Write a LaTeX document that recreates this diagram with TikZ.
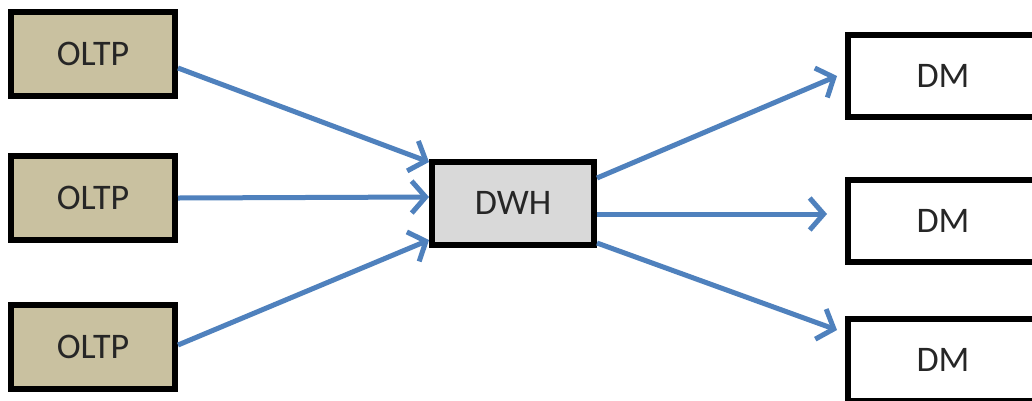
\documentclass[tikz,border=0pt]{standalone}
\usepackage{fontspec}
\setmainfont{Carlito}
\usetikzlibrary{arrows.meta,calc}
\definecolor{oltpfill}{HTML}{C9C1A0}
\definecolor{dwhfill}{HTML}{D9D9D9}
\definecolor{arrblue}{HTML}{4F81BD}
\begin{document}
\begin{tikzpicture}[x=1pt,y=-1pt,
  box/.style={draw=black,line width=6pt,rectangle,inner sep=0pt,font=\fontsize{36}{36}\selectfont,text=black!85},
  oltp/.style={box,fill=oltpfill,minimum width=164pt,minimum height=84pt},
  dwh/.style={box,fill=dwhfill,minimum width=162pt,minimum height=83pt},
  dm/.style={box,fill=white,minimum width=190pt,minimum height=82pt},
  conn/.style={draw=arrblue,line width=5pt,-{Straight Barb[length=14pt,width=32pt,line width=5pt]}}]
\useasboundingbox (0,0) rectangle (1032,400);
\fill[white] (0,0) rectangle (1032,400);
\clip (0,0) rectangle (1032,400);
\node[oltp] (o1) at (93,54) {OLTP};
\node[oltp] (o2) at (93,198) {OLTP};
\node[oltp] (o3) at (93,347) {OLTP};
\node[dwh] (dwh) at (513,203) {DWH};
\node[dm] (dm1) at (943,76) {DM};
\node[dm] (dm2) at (943,221) {DM};
\node[dm] (dm3) at (943,360) {DM};
\draw[conn] ([yshift=-14pt]o1.east) -- ([yshift=41pt]dwh.west);
\draw[conn] (o2.east) -- ([yshift=6pt]dwh.west);
\draw[conn] ([yshift=2pt]o3.east) -- ([yshift=-37pt]dwh.west);
\draw[conn] ([yshift=25pt]dwh.east) -- ([xshift=-8pt]dm1.west);
\draw[conn] ([yshift=-11pt]dwh.east) -- ([xshift=-18pt,yshift=7pt]dm2.west);
\draw[conn] ([yshift=-40pt]dwh.east) -- ([xshift=-8pt,yshift=30pt]dm3.west);
\end{tikzpicture}
\end{document}
